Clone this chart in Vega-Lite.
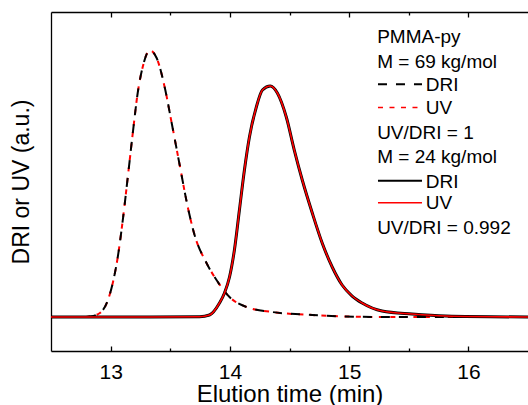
{
  "$schema": "https://vega.github.io/schema/vega-lite/v6.json",
  "width": 477,
  "height": 339,
  "autosize": {"type": "none"},
  "padding": {"left": 51, "top": 12, "right": 0, "bottom": 54},
  "config": {
    "view": {"stroke": null},
    "font": "Liberation Sans",
    "axis": {"labelFont": "Liberation Sans", "titleFont": "Liberation Sans", "grid": false, "domainColor": "black", "tickColor": "black", "labelColor": "black", "titleColor": "black", "titleFontWeight": "normal", "domainWidth": 1.3, "tickWidth": 1.3}
  },
  "datasets": {
    "high": [
      {"t": 12.5, "s": 0.1003}, {"t": 12.784, "s": 0.1003}, {"t": 12.826, "s": 0.1018}, {"t": 12.91, "s": 0.1121},
      {"t": 12.968, "s": 0.1416}, {"t": 13.018, "s": 0.2006}, {"t": 13.06, "s": 0.2773}, {"t": 13.102, "s": 0.3864},
      {"t": 13.144, "s": 0.5133}, {"t": 13.186, "s": 0.6431}, {"t": 13.227, "s": 0.7611}, {"t": 13.269, "s": 0.8378},
      {"t": 13.328, "s": 0.887}, {"t": 13.386, "s": 0.8643}, {"t": 13.453, "s": 0.7788}, {"t": 13.512, "s": 0.6726},
      {"t": 13.579, "s": 0.5487}, {"t": 13.645, "s": 0.4277}, {"t": 13.704, "s": 0.3422}, {"t": 13.804, "s": 0.2596},
      {"t": 13.888, "s": 0.2094}, {"t": 13.997, "s": 0.1593}, {"t": 14.139, "s": 0.1298}, {"t": 14.356, "s": 0.115},
      {"t": 14.691, "s": 0.1062}, {"t": 15.251, "s": 0.1003}, {"t": 16.5, "s": 0.1003}
    ],
    "low": [
      {"t": 12.5, "s": 0.1003}, {"t": 13.328, "s": 0.1003}, {"t": 13.746, "s": 0.1012}, {"t": 13.829, "s": 0.1062},
      {"t": 13.913, "s": 0.1416}, {"t": 13.955, "s": 0.1711}, {"t": 13.997, "s": 0.2183}, {"t": 14.038, "s": 0.2979},
      {"t": 14.08, "s": 0.4159}, {"t": 14.122, "s": 0.5339}, {"t": 14.164, "s": 0.6313}, {"t": 14.222, "s": 0.7198},
      {"t": 14.273, "s": 0.7699}, {"t": 14.339, "s": 0.7817}, {"t": 14.398, "s": 0.7611}, {"t": 14.473, "s": 0.6903},
      {"t": 14.54, "s": 0.5929}, {"t": 14.607, "s": 0.5044}, {"t": 14.691, "s": 0.4071}, {"t": 14.774, "s": 0.3186},
      {"t": 14.858, "s": 0.2478}, {"t": 14.941, "s": 0.1947}, {"t": 15.025, "s": 0.1622}, {"t": 15.109, "s": 0.1416},
      {"t": 15.276, "s": 0.118}, {"t": 15.527, "s": 0.1091}, {"t": 15.811, "s": 0.1032}, {"t": 16.5, "s": 0.1003}
    ],
    "legendText": [
      {"label": "PMMA-py", "t": 15.235, "s": 0.926},
      {"label": "M = 69 kg/mol", "t": 15.235, "s": 0.853},
      {"label": "DRI", "t": 15.643, "s": 0.785},
      {"label": "UV", "t": 15.643, "s": 0.717},
      {"label": "UV/DRI = 1", "t": 15.235, "s": 0.643},
      {"label": "M = 24 kg/mol", "t": 15.235, "s": 0.572},
      {"label": "DRI", "t": 15.643, "s": 0.499},
      {"label": "UV", "t": 15.643, "s": 0.437},
      {"label": "UV/DRI = 0.992", "t": 15.235, "s": 0.363}
    ],
    "legendLines": [
      {"key": "69 DRI", "t": 15.242, "t2": 15.611, "s": 0.787},
      {"key": "69 UV", "t": 15.242, "t2": 15.611, "s": 0.718},
      {"key": "24 DRI", "t": 15.242, "t2": 15.611, "s": 0.502},
      {"key": "24 UV", "t": 15.242, "t2": 15.611, "s": 0.437}
    ]
  },
  "layer": [
    {
      "data": {"name": "high"},
      "mark": {"type": "line", "color": "#ff0000", "strokeWidth": 2, "strokeDash": [5, 6.5], "interpolate": "monotone", "clip": true},
      "encoding": {
        "x": {"field": "t", "type": "quantitative", "scale": {"domain": [12.5, 16.5], "nice": false, "zero": false},
          "axis": {"orient": "bottom", "values": [13, 14, 15, 16], "tickSize": -5, "labelFontSize": 21, "labelPadding": 15, "format": "d", "title": "Elution time (min)", "titleFontSize": 24, "titlePadding": 0}},
        "y": {"field": "s", "type": "quantitative", "scale": {"domain": [0, 1], "nice": false, "zero": false},
          "axis": {"orient": "left", "ticks": false, "labels": false, "title": "DRI or UV (a.u.)", "titleFontSize": 23, "titlePadding": 18}}
      }
    },
    {
      "data": {"name": "high"},
      "mark": {"type": "line", "color": "#000000", "strokeWidth": 2, "strokeDash": [9, 9], "interpolate": "monotone", "clip": true},
      "encoding": {
        "x": {"field": "t", "type": "quantitative",
          "axis": {"orient": "bottom", "values": [13.5, 14.5, 15.5], "tickSize": -3, "labels": false, "domain": false, "title": null}},
        "y": {"field": "s", "type": "quantitative", "axis": null}
      }
    },
    {
      "data": {"name": "low"},
      "mark": {"type": "line", "color": "#000000", "strokeWidth": 3, "interpolate": "monotone", "clip": true},
      "encoding": {
        "x": {"field": "t", "type": "quantitative",
          "axis": {"orient": "top", "values": [13, 14, 15, 16], "tickSize": -5, "labels": false, "title": null}},
        "y": {"field": "s", "type": "quantitative", "axis": null}
      }
    },
    {
      "data": {"name": "low"},
      "mark": {"type": "line", "color": "#ff0000", "strokeWidth": 1.6, "interpolate": "monotone", "clip": true},
      "encoding": {
        "x": {"field": "t", "type": "quantitative",
          "axis": {"orient": "top", "values": [13.5, 14.5, 15.5], "tickSize": -3, "labels": false, "domain": false, "title": null}},
        "y": {"field": "s", "type": "quantitative", "axis": null}
      }
    },
    {
      "data": {"name": "legendLines"},
      "transform": [{"filter": "datum.key == '69 DRI'"}],
      "mark": {"type": "rule", "color": "#000000", "strokeWidth": 2, "strokeDash": [9, 9]},
      "encoding": {
        "x": {"field": "t", "type": "quantitative", "axis": null},
        "x2": {"field": "t2"},
        "y": {"field": "s", "type": "quantitative", "axis": null}
      }
    },
    {
      "data": {"name": "legendLines"},
      "transform": [{"filter": "datum.key == '69 UV'"}],
      "mark": {"type": "rule", "color": "#ff0000", "strokeWidth": 1.5, "strokeDash": [5, 6.5]},
      "encoding": {
        "x": {"field": "t", "type": "quantitative", "axis": null},
        "x2": {"field": "t2"},
        "y": {"field": "s", "type": "quantitative", "axis": null}
      }
    },
    {
      "data": {"name": "legendLines"},
      "transform": [{"filter": "datum.key == '24 DRI'"}],
      "mark": {"type": "rule", "color": "#000000", "strokeWidth": 2},
      "encoding": {
        "x": {"field": "t", "type": "quantitative", "axis": null},
        "x2": {"field": "t2"},
        "y": {"field": "s", "type": "quantitative", "axis": null}
      }
    },
    {
      "data": {"name": "legendLines"},
      "transform": [{"filter": "datum.key == '24 UV'"}],
      "mark": {"type": "rule", "color": "#ff0000", "strokeWidth": 1.5},
      "encoding": {
        "x": {"field": "t", "type": "quantitative", "axis": null},
        "x2": {"field": "t2"},
        "y": {"field": "s", "type": "quantitative", "axis": null}
      }
    },
    {
      "data": {"name": "legendText"},
      "mark": {"type": "text", "align": "left", "baseline": "middle", "fontSize": 19, "font": "Liberation Sans", "color": "#000000"},
      "encoding": {
        "x": {"field": "t", "type": "quantitative", "axis": null},
        "y": {"field": "s", "type": "quantitative", "axis": null},
        "text": {"field": "label"}
      }
    }
  ],
  "resolve": {"axis": {"x": "independent", "y": "independent"}}
}
